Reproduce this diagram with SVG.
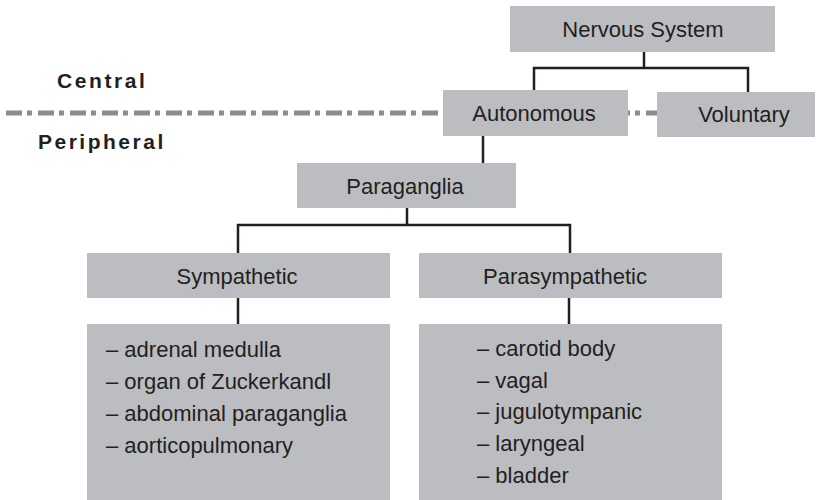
<svg xmlns="http://www.w3.org/2000/svg" width="830" height="500" viewBox="0 0 830 500">
<style>
.box{fill:#bcbdc0}
.lbl{font-family:"Liberation Sans",Arial,sans-serif;font-size:22px;fill:#231f20;text-anchor:middle}
.item{font-family:"Liberation Sans",Arial,sans-serif;font-size:22px;fill:#231f20}
.zone{font-family:"Liberation Sans",Arial,sans-serif;font-size:21px;font-weight:bold;fill:#231f20}
.con{fill:none;stroke:#231f20;stroke-width:2.5}
</style>
<rect width="830" height="500" fill="#ffffff"/>
<line x1="6" y1="113" x2="657" y2="113" stroke="#8c8c8c" stroke-width="5" stroke-dasharray="16 5 5 6"/>
<text class="zone" x="57" y="88" letter-spacing="2.6">Central</text>
<text class="zone" x="38" y="149" letter-spacing="2.5">Peripheral</text>
<g id="connectors">
<path class="con" d="M644 52V68M534 91V68H748V92"/>
<path class="con" d="M483 136V163"/>
<path class="con" d="M407 208V225M238 253V225H570V253"/>
<path class="con" d="M238 298V324"/>
<path class="con" d="M569 298V324"/>
</g>
<g id="nervous-system">
<rect class="box" x="510" y="6" width="265" height="46"/>
<text class="lbl" x="643" y="37">Nervous System</text>
</g>
<g id="autonomous">
<rect class="box" x="443" y="90" width="185" height="46"/>
<text class="lbl" x="534" y="121">Autonomous</text>
</g>
<g id="voluntary">
<rect class="box" x="657" y="92" width="158" height="45"/>
<text class="lbl" x="744" y="122">Voluntary</text>
</g>
<g id="paraganglia">
<rect class="box" x="297" y="163" width="219" height="45"/>
<text class="lbl" x="405" y="194">Paraganglia</text>
</g>
<g id="sympathetic">
<rect class="box" x="87" y="253" width="303" height="45"/>
<text class="lbl" x="237" y="284">Sympathetic</text>
</g>
<g id="parasympathetic">
<rect class="box" x="419" y="253" width="303" height="45"/>
<text class="lbl" x="565" y="284">Parasympathetic</text>
</g>
<g id="sympathetic-list">
<rect class="box" x="87" y="324" width="303" height="176"/>
<text class="item" x="106" y="357">– adrenal medulla</text>
<text class="item" x="106" y="389">– organ of Zuckerkandl</text>
<text class="item" x="106" y="421">– abdominal paraganglia</text>
<text class="item" x="106" y="453">– aorticopulmonary</text>
</g>
<g id="parasympathetic-list">
<rect class="box" x="419" y="324" width="303" height="176"/>
<text class="item" x="477" y="356">– carotid body</text>
<text class="item" x="477" y="388">– vagal</text>
<text class="item" x="477" y="419">– jugulotympanic</text>
<text class="item" x="477" y="451">– laryngeal</text>
<text class="item" x="477" y="483">– bladder</text>
</g>
</svg>
